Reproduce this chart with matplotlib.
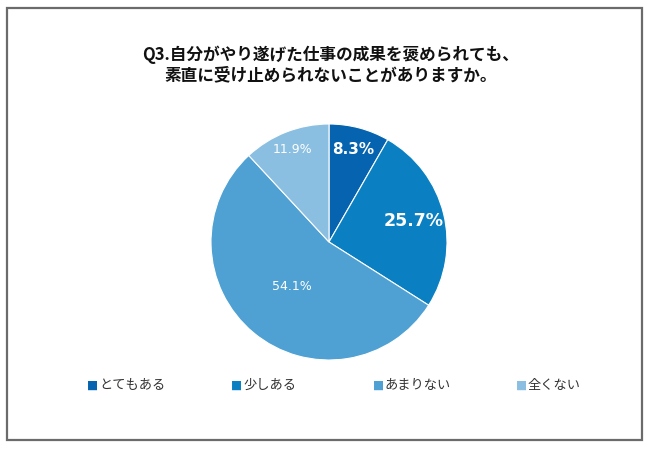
import numpy as np
import matplotlib.pyplot as plt
from matplotlib.patches import Rectangle

plt.rcParams['font.family'] = ['DejaVu Sans', 'Noto Sans CJK JP']

# data
categories = ["とてもある", "少しある", "あまりない", "全くない"]
values = [8.3, 25.7, 54.1, 11.9]
colors = ["#0563b0", "#0a80c2", "#4fa0d3", "#8bbfe1"]
title = "Q3.自分がやり遂げた仕事の成果を褒められても、\n素直に受け止められないことがありますか。"

# label style per slice
lab_dist = [0.81, 0.74, 0.49, 0.84]
lab_size = [11, 12.5, 9, 9]
lab_weight = ["bold", "bold", "normal", "normal"]

W, H = 650, 449
fig = plt.figure(figsize=(W / 100, H / 100), dpi=100)

# outer frame
fig.patches.append(Rectangle((7 / W, 1 - 440 / H), 635 / W, 432 / H,
                             transform=fig.transFigure, fill=False,
                             edgecolor="#6b6b6b", linewidth=1.6))

# pie
cx, cy, r = 329, H - 242, 118
ax = fig.add_axes([(cx - r) / W, (cy - r) / H, 2 * r / W, 2 * r / H])
wedges, _ = ax.pie(values, colors=colors, startangle=90, counterclock=False,
                   radius=1, wedgeprops=dict(linewidth=0.8, edgecolor="white"))
ax.set_xlim(-1, 1)
ax.set_ylim(-1, 1)
ax.set_aspect("equal")
ax.axis("off")

for w, v, d, s, fw in zip(wedges, values, lab_dist, lab_size, lab_weight):
    ang = np.deg2rad((w.theta1 + w.theta2) / 2)
    ax.text(d * np.cos(ang), d * np.sin(ang), f"{v}%", ha="center", va="center",
            color="white", fontsize=s, fontweight=fw)

# title
fig.text(331 / W, 1 - 65 / H, title, ha="center", va="center",
         fontsize=12, fontweight="bold", linespacing=1.2,
         family=["Noto Sans CJK JP", "DejaVu Sans"], color="#111111")

# legend
leg_x = [87, 231, 373, 516]
for x, lab, c in zip(leg_x, categories, colors):
    fig.text(x / W, 1 - 385 / H, "■", color=c, fontsize=8.5, ha="left", va="center",
             family=["DejaVu Sans"])
    fig.text((x + 12) / W, 1 - 385 / H, lab, color="#333333", fontsize=9.5,
             ha="left", va="center", family=["Noto Sans CJK JP", "DejaVu Sans"])

fig.savefig("out.png", dpi=100)
